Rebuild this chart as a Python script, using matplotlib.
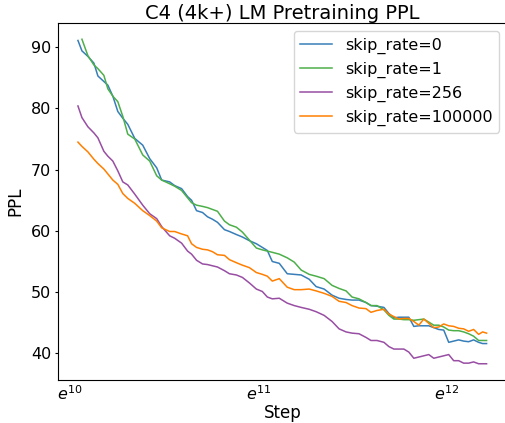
import numpy as np
import matplotlib
matplotlib.use('Agg')
import matplotlib.pyplot as plt
from matplotlib.ticker import FixedLocator, FuncFormatter, NullLocator

# training steps (shared by all runs; skip_rate=1 starts one log point later)
steps = [22979, 23470, 24227, 25009, 25544, 26367, 26932, 27654, 28395, 29156,
         29938, 31068, 32411, 33634, 34903, 35839, 37388, 38390, 39839, 41124,
         42004, 43129, 44521, 45715, 46940, 48198, 50017, 51358, 53296, 55015,
         57091, 59243, 61154, 62794, 64477, 66910, 69803, 72437, 75170, 78420,
         81378, 84897, 88567, 91910, 95379, 98455, 102170, 106025, 108867, 112380,
         116618, 119745, 122956, 126252, 129637, 133112, 136682, 140345, 144108, 147971,
         151938, 156011, 160194, 164488, 168898, 173425, 178075, 182849, 187751, 192784,
         196908, 201120]

ppl_skip0 = [91.1, 89.4, 88.5, 87.4, 85.3, 84.4, 83.8, 82.0, 79.5, 78.4,
             77.4, 75.1, 74.0, 71.8, 70.3, 68.3, 68.0, 67.4, 66.9, 65.6,
             65.0, 63.3, 63.0, 62.3, 61.9, 61.4, 60.2, 59.9, 59.4, 59.0,
             58.4, 57.9, 57.3, 56.8, 55.0, 54.7, 53.0, 52.9, 52.8, 52.1,
             50.9, 50.5, 49.5, 49.0, 48.8, 48.7, 48.7, 48.3, 47.8, 47.7,
             47.5, 46.5, 45.8, 45.9, 45.9, 45.9, 44.4, 44.5, 44.5, 44.5,
             44.2, 43.9, 43.8, 41.8, 42.0, 42.2, 42.0, 41.9, 42.2, 41.8,
             41.6, 41.6]

ppl_skip1 = [91.3, 88.6, 87.1, 86.5, 85.4, 83.2, 82.0, 81.1, 78.7,
             75.8, 75.0, 72.4, 71.4, 69.0, 68.3, 67.7, 67.3, 66.6, 65.4,
             64.6, 64.2, 64.0, 63.8, 63.5, 63.2, 61.6, 61.0, 60.6, 59.8,
             58.5, 57.2, 56.9, 56.7, 56.5, 56.2, 55.6, 54.9, 53.6, 52.9,
             52.6, 52.2, 51.1, 50.6, 50.2, 49.2, 48.9, 48.3, 47.8, 47.8,
             47.1, 46.2, 45.6, 45.6, 45.5, 45.5, 45.4, 45.5, 45.6, 45.1,
             44.6, 44.6, 44.3, 43.8, 43.7, 43.7, 43.5, 43.2, 42.8, 42.1,
             42.1, 42.1]

ppl_skip256 = [80.4, 78.5, 77.0, 76.0, 75.2, 73.0, 72.2, 71.4, 69.8, 68.0,
               67.5, 66.0, 64.2, 62.8, 62.0, 60.7, 59.2, 58.8, 58.0, 56.7,
               56.2, 55.2, 54.6, 54.5, 54.3, 54.1, 53.5, 53.0, 52.8, 52.4,
               51.5, 50.5, 50.1, 49.2, 48.9, 49.0, 48.2, 47.8, 47.5, 47.2,
               46.8, 46.2, 45.2, 44.0, 43.5, 43.3, 43.2, 42.6, 42.1, 42.1,
               41.8, 41.1, 40.7, 40.7, 40.7, 40.2, 39.2, 39.4, 39.6, 39.8,
               39.2, 39.4, 39.6, 39.8, 38.8, 38.8, 38.4, 38.4, 38.6, 38.3,
               38.3, 38.3]

ppl_skip100000 = [74.5, 73.8, 72.9, 71.7, 71.0, 70.1, 69.3, 68.3, 67.6, 66.1,
                  65.3, 64.5, 63.3, 62.5, 61.6, 60.5, 59.9, 59.9, 59.5, 59.2,
                  57.9, 57.3, 57.0, 56.9, 56.6, 56.1, 56.0, 55.3, 54.8, 54.4,
                  54.0, 53.2, 52.9, 52.6, 51.8, 52.2, 50.8, 50.4, 50.4, 50.5,
                  50.2, 49.8, 49.3, 48.5, 48.3, 47.8, 47.4, 47.3, 46.7, 47.0,
                  47.2, 46.4, 46.0, 45.6, 45.7, 45.7, 45.2, 44.6, 45.6, 44.9,
                  44.2, 44.3, 44.8, 44.5, 44.4, 44.1, 44.0, 43.6, 43.9, 43.1,
                  43.5, 43.3]

labels = ['skip_rate=0', 'skip_rate=1', 'skip_rate=256', 'skip_rate=100000']
# Set1-like palette
colors = ['#377eb8', '#4daf4a', '#984ea3', '#ff7f00']

fig = plt.figure(figsize=(5.05, 4.23), dpi=100)
ax = fig.add_axes([0.1139, 0.1017, 0.8901, 0.8439])

series = [(steps, ppl_skip0), (steps[1:], ppl_skip1),
          (steps, ppl_skip256), (steps, ppl_skip100000)]
for (x, y), lab, col in zip(series, labels, colors):
    ax.plot(x, y, color=col, lw=1.1, label=lab)

ax.set_xscale('log', base=np.e)
ax.xaxis.set_major_locator(FixedLocator([np.e ** 10, np.e ** 11, np.e ** 12]))
ax.xaxis.set_minor_locator(NullLocator())
ax.xaxis.set_major_formatter(FuncFormatter(lambda v, p: r'$e^{%d}$' % round(np.log(v))))

ax.tick_params(axis='x', labelsize=11.5, length=0, pad=3)
ax.tick_params(axis='y', labelsize=11.5, length=2.5, pad=2)
ax.set_xlabel('Step', fontsize=12, labelpad=1)
ax.set_ylabel('PPL', fontsize=12, labelpad=5)
ax.set_title('C4 (4k+) LM Pretraining PPL', fontsize=14, pad=2)
ax.legend(loc='upper right', fontsize=11.5)

fig.savefig('out.png', dpi=100)
